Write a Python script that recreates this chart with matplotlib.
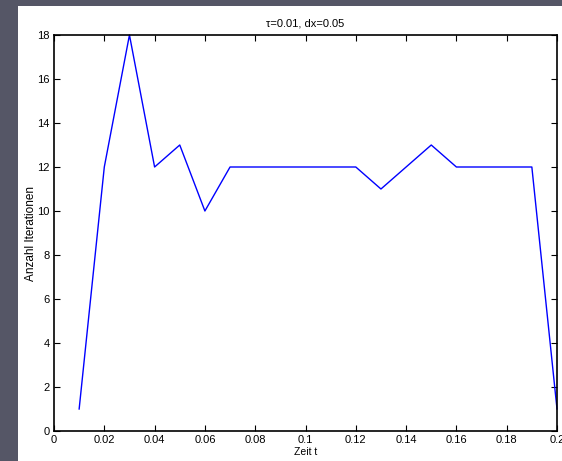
import numpy as np
import matplotlib

matplotlib.use("Agg")
import matplotlib.pyplot as plt
from matplotlib.patches import Rectangle

# Zeitschritte und Anzahl Iterationen pro Zeitschritt
zeit = [0.01, 0.02, 0.03, 0.04, 0.05, 0.06, 0.07, 0.08, 0.09, 0.10,
        0.11, 0.12, 0.13, 0.14, 0.15, 0.16, 0.17, 0.18, 0.19, 0.20]
iterationen = [1, 12, 18, 12, 13, 10, 12, 12, 12, 12,
               12, 12, 11, 12, 13, 12, 12, 12, 12, 1]
xticks = [0, 0.02, 0.04, 0.06, 0.08, 0.1, 0.12, 0.14, 0.16, 0.18, 0.2]
yticks = [0, 2, 4, 6, 8, 10, 12, 14, 16, 18]

plt.rcParams["font.family"] = ["Liberation Sans", "DejaVu Sans"]

W, H = 562, 461
fig = plt.figure(figsize=(W / 100, H / 100), dpi=100)
fig.patch.set_facecolor("#555666")
# weisse Zeichenflaeche hinter der Achse
bg = fig.add_axes([18 / W, 0, 1 - 18 / W, 1 - 6 / H], zorder=0)
bg.set_axis_off()
bg.add_patch(Rectangle((0, 0), 1, 1, transform=bg.transAxes,
                       facecolor="white", edgecolor="none"))

ax = fig.add_axes([54 / W, 30 / H, (557 - 54) / W, (431 - 35) / H], zorder=1)
ax.plot(zeit, iterationen, color="#0000ff", lw=1.0, clip_on=False)
ax.set_xlim(0, 0.2)
ax.set_ylim(0, 18)
ax.set_xticks(xticks)
ax.set_xticklabels([f"{v:g}" for v in xticks])
ax.set_yticks(yticks)
ax.tick_params(direction="in", top=True, right=True, length=4, width=0.8,
               labelsize=8, pad=3)
for s in ax.spines.values():
    s.set_linewidth(1.2)
ax.set_xlabel("Zeit t", fontsize=7.5, labelpad=1)
ax.set_ylabel("Anzahl Iterationen", fontsize=8.5, labelpad=0)
ax.set_title("τ=0.01, dx=0.05", fontsize=8, pad=6)

fig.savefig("out.png", dpi=100, facecolor=fig.get_facecolor())
